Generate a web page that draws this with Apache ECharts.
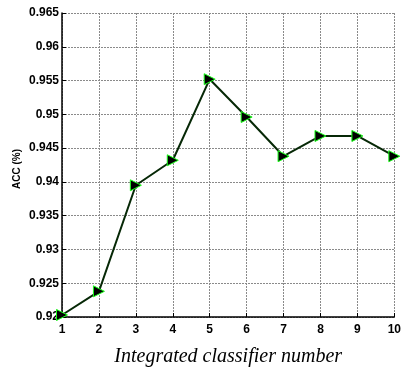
<!DOCTYPE html>
<html>
<head>
<meta charset="utf-8">
<script src="https://cdn.jsdelivr.net/npm/echarts@6/dist/echarts.min.js"></script>
<style>html,body{margin:0;padding:0;background:#fff;}#c{width:404px;height:372px;}</style>
</head>
<body>
<div id="c"></div>
<script>
var categories = [1, 2, 3, 4, 5, 6, 7, 8, 9, 10];
var accValues = [0.9203, 0.9238, 0.9395, 0.9432, 0.9552, 0.9496, 0.9438, 0.9468, 0.9468, 0.9438];
var yTicks = [0.92, 0.925, 0.93, 0.935, 0.94, 0.945, 0.95, 0.955, 0.96, 0.965];

var chart = echarts.init(document.getElementById('c'), null, {renderer: 'canvas'});
var gridLine = {show: true, lineStyle: {color: '#8a8a8a', type: [2, 1], width: 1}};
chart.setOption({
  animation: false,
  backgroundColor: '#fff',
  grid: {left: 62, top: 13, right: 4, bottom: 47},
  xAxis: {
    type: 'value', min: 1, max: 10, interval: 1,
    axisLine: {show: true, onZero: false, lineStyle: {color: '#000', width: 1.5}},
    axisTick: {show: true, inside: true, length: 4, lineStyle: {color: '#000'}},
    axisLabel: {color: '#000', fontFamily: 'Liberation Sans', fontWeight: 'bold', fontSize: 12, margin: 7},
    splitLine: gridLine,
    name: 'Integrated classifier number', nameLocation: 'middle', nameGap: 30,
    nameTextStyle: {color: '#000', fontFamily: 'Liberation Serif', fontStyle: 'italic', fontSize: 20}
  },
  yAxis: {
    type: 'value', min: 0.92, max: 0.965, interval: 0.005,
    axisLine: {show: true, onZero: false, lineStyle: {color: '#000', width: 1.5}},
    axisTick: {show: true, inside: true, length: 4, lineStyle: {color: '#000'}},
    axisLabel: {color: '#000', fontFamily: 'Liberation Sans', fontWeight: 'bold', fontSize: 12, margin: 3,
      formatter: function (v) { return String(+v.toFixed(3)); }},
    splitLine: gridLine
  },
  graphic: [{
    type: 'text', x: 17, y: 169, rotation: Math.PI / 2,
    style: {text: 'ACC (%)', fill: '#000', font: 'bold 10px "Liberation Sans"', align: 'center', verticalAlign: 'middle'}
  }],
  series: [{
    type: 'line',
    data: categories.map(function (c, i) { return [c, accValues[i]]; }),
    lineStyle: {color: '#062806', width: 2},
    symbol: 'triangle', symbolRotate: -90, symbolSize: 11,
    itemStyle: {color: '#000', borderColor: '#1aff1a', borderWidth: 1},
    clip: false
  }]
});
</script>
</body>
</html>
